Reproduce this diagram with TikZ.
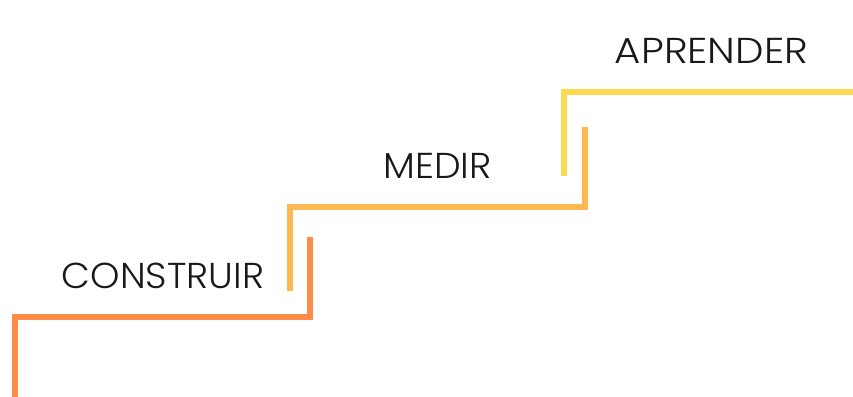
\documentclass[tikz,border=0pt]{standalone}
\usepackage{fontspec}
\setmainfont{Poppins}[UprightFont={* Light}]
\definecolor{stepA}{RGB}{255,140,70}
\definecolor{stepB}{RGB}{255,183,80}
\definecolor{stepC}{RGB}{255,216,82}
\definecolor{labelink}{RGB}{25,25,25}
\begin{document}
\begin{tikzpicture}[x=1pt,y=-1pt,
  stair/.style={line width=6pt,line cap=butt,line join=miter},
  steplabel/.style={font=\fontsize{36}{40}\selectfont,text=labelink,inner sep=0pt}]
\useasboundingbox (0,0) rectangle (853,396);
% path 1
\coordinate (a1) at (15,400);
\coordinate (a2) at (15,317);
\coordinate (a3) at (310,317);
\coordinate (a4) at (310,237);
% path 2
\coordinate (b1) at (289.5,291);
\coordinate (b2) at (289.5,207);
\coordinate (b3) at (585,207);
\coordinate (b4) at (585,127);
% path 3
\coordinate (c1) at (564,176);
\coordinate (c2) at (564,92);
\coordinate (c3) at (857,92);
\draw[stair,stepA] (a1) -- (a2) -- (a3) -- (a4);
\draw[stair,stepB] (b1) -- (b2) -- (b3) -- (b4);
\draw[stair,stepC] (c1) -- (c2) -- (c3);
\node[steplabel,xscale=1.04] (construir) at (163,276) {CONSTRUIR};
\node[steplabel,xscale=1.05] (medir) at (437.5,166) {MEDIR};
\node[steplabel,xscale=1.12] (aprender) at (711.5,51) {APRENDER};
\end{tikzpicture}
\end{document}
